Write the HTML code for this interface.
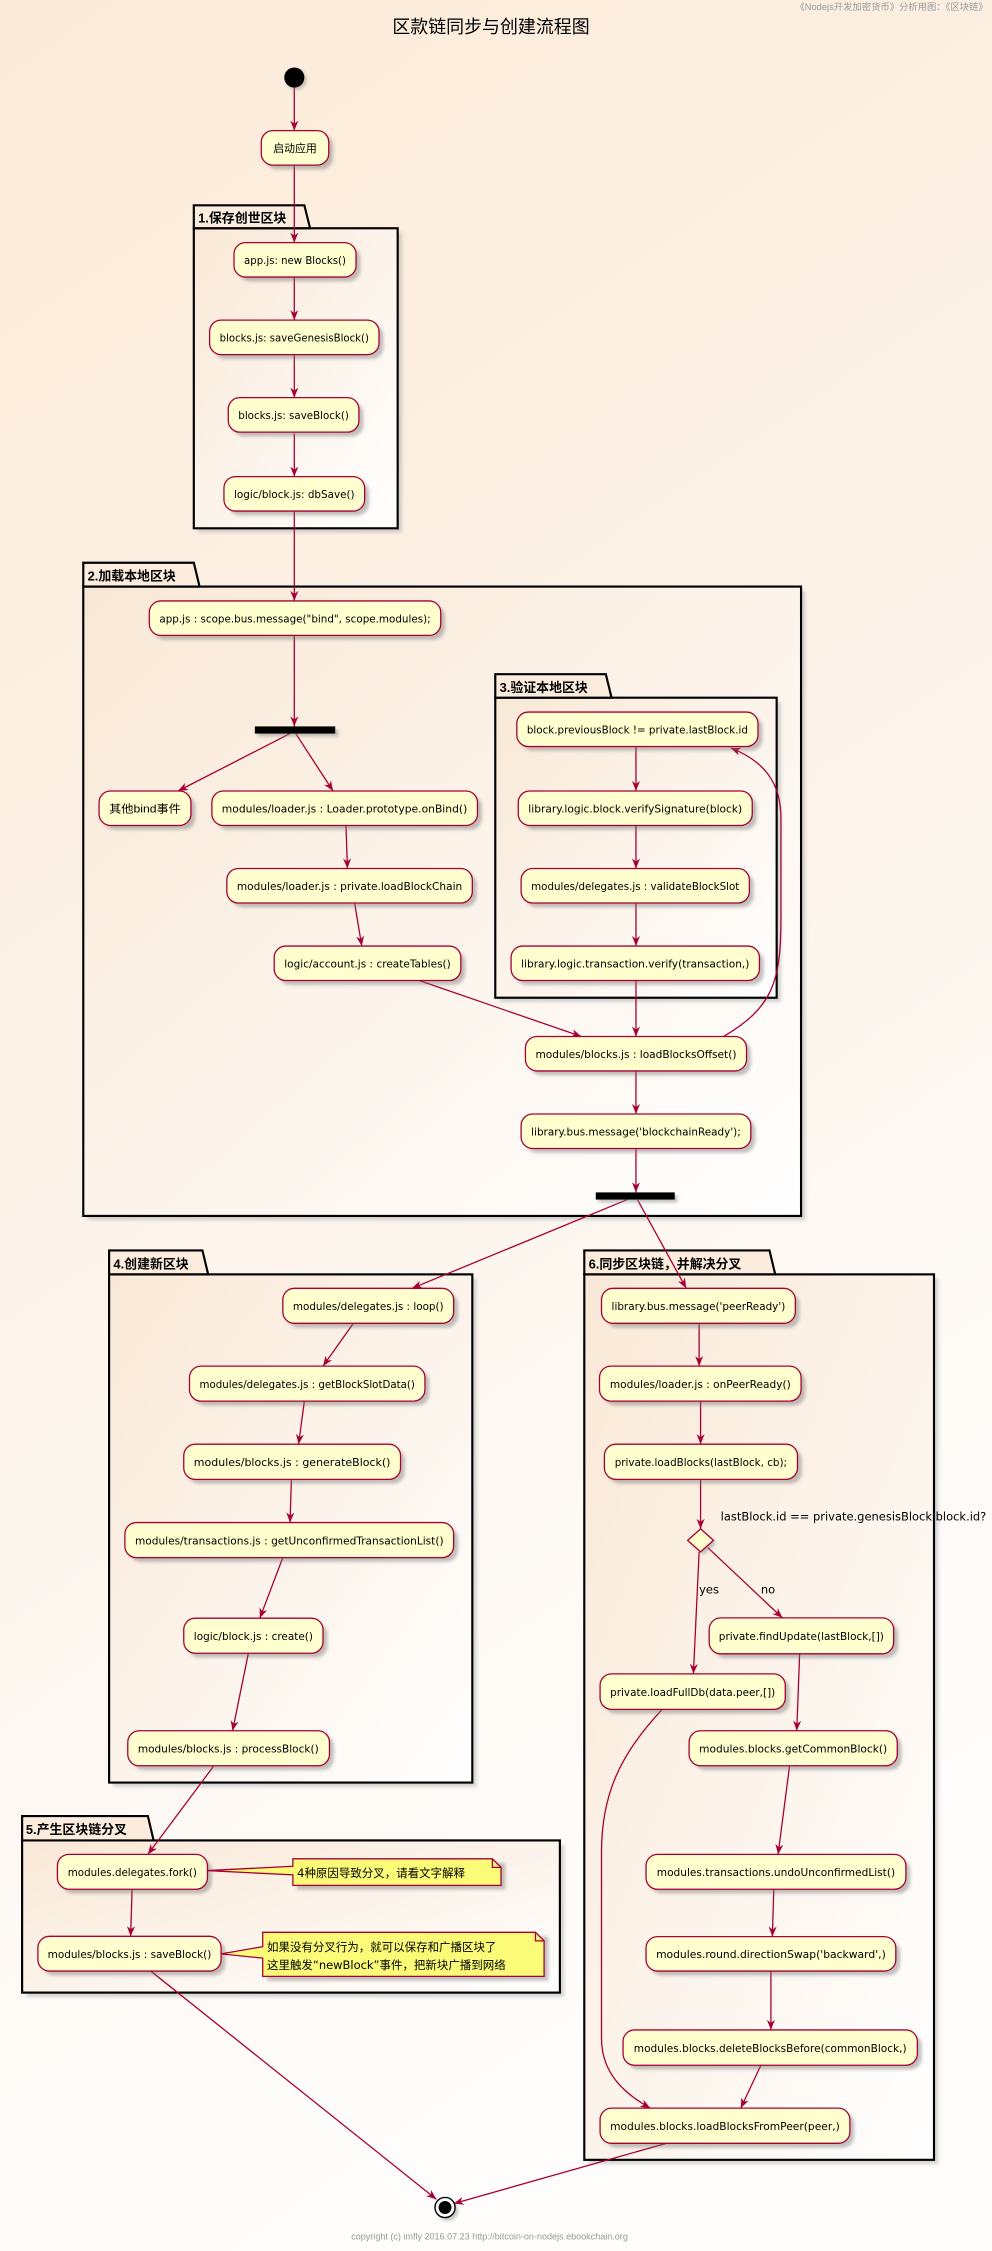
<!DOCTYPE html>
<html><head><meta charset="utf-8"><style>
html,body{margin:0;padding:0;width:992px;height:2251px;overflow:hidden;background:#fdf6ef}
svg{display:block}
text{font-family:"DejaVu Sans","Liberation Sans","Noto Sans CJK SC",sans-serif;fill:#000}
.n{font-size:7.6px}
.t{font-size:9px;font-weight:bold;font-family:"Liberation Sans","Noto Sans CJK SC",sans-serif}
.nt{font-size:8px;font-family:"Liberation Sans","Noto Sans CJK SC",sans-serif}
</style></head><body>
<svg width="992" height="2251" viewBox="0 0 691 1568" xmlns="http://www.w3.org/2000/svg">
<defs>
<linearGradient id="bg" x1="0" y1="0" x2="0.3" y2="1"><stop offset="0" stop-color="#fbead7"/><stop offset="1" stop-color="#fefdfc"/></linearGradient>
<linearGradient id="pk" x1="0" y1="0" x2="1" y2="1"><stop offset="0" stop-color="#f9e8d6"/><stop offset="1" stop-color="#ffffff"/></linearGradient>
<filter id="sh" x="-10%" y="-10%" width="130%" height="140%"><feGaussianBlur stdDeviation="1.2"/></filter>
<marker id="a" viewBox="0 0 10 8" refX="10" refY="4" markerWidth="7" markerHeight="6" orient="auto" markerUnits="userSpaceOnUse"><path d="M0,0 L10,4 L0,8 L3,4 z" fill="#a80036"/></marker>
</defs>
<rect width="691" height="1568" fill="url(#bg)"/>
<text x="688" y="7" text-anchor="end" style="font-size:6.5px;fill:#999;font-family:'Liberation Sans','Noto Sans CJK SC',sans-serif">《Nodejs开发加密货币》分析用图：《区块链》</text>
<text x="342" y="23" text-anchor="middle" style="font-size:12.5px;font-family:'Liberation Sans','Noto Sans CJK SC',sans-serif">区款链同步与创建流程图</text>
<text x="341" y="1560" text-anchor="middle" style="font-size:6.3px;fill:#999;font-family:'Liberation Sans',sans-serif">copyright (c) imfly 2016.07.23 http://bitcoin-on-nodejs.ebookchain.org</text>

<g id="pkgs" stroke="#000" stroke-width="1.5">
<!-- package helper drawn manually -->
<g>
<rect x="138" y="162" width="142" height="209" fill="#999" opacity="0.4" stroke="none" filter="url(#sh)"/>
<rect x="135" y="159" width="142" height="209" fill="url(#pk)"/>
<path d="M135,159 L135,143 L212,143 L216,159 Z" fill="#fbecdd"/>
</g>
<g>
<rect x="61" y="411.6" width="500" height="438.4" fill="#999" opacity="0.4" stroke="none" filter="url(#sh)"/>
<rect x="58" y="408.6" width="500" height="438.4" fill="url(#pk)"/>
<path d="M58,408.6 L58,392 L135,392 L139,408.6 Z" fill="#fbecdd"/>
</g>
<g>
<rect x="348" y="489" width="196" height="209" fill="#999" opacity="0.4" stroke="none" filter="url(#sh)"/>
<rect x="345" y="486" width="196" height="209" fill="url(#pk)"/>
<path d="M345,486 L345,469.6 L422,469.6 L426,486 Z" fill="#fbecdd"/>
</g>
<g>
<rect x="79" y="890.7" width="253" height="354" fill="#999" opacity="0.4" stroke="none" filter="url(#sh)"/>
<rect x="76" y="887.7" width="253" height="354" fill="url(#pk)"/>
<path d="M76,887.7 L76,871 L141,871 L145,887.7 Z" fill="#fbecdd"/>
</g>
<g>
<rect x="410" y="890.7" width="243.6" height="616.8" fill="#999" opacity="0.4" stroke="none" filter="url(#sh)"/>
<rect x="407" y="887.7" width="243.6" height="616.8" fill="url(#pk)"/>
<path d="M407,887.7 L407,871 L536,871 L540,887.7 Z" fill="#fbecdd"/>
</g>
<g>
<rect x="18.4" y="1285" width="374.6" height="106" fill="#999" opacity="0.4" stroke="none" filter="url(#sh)"/>
<rect x="15.4" y="1282" width="374.6" height="106" fill="url(#pk)"/>
<path d="M15.4,1282 L15.4,1265 L103,1265 L107,1282 Z" fill="#fbecdd"/>
</g>
</g>
<g stroke="none">
<text class="t" x="138" y="155">1.保存创世区块</text>
<text class="t" x="61" y="404.5">2.加载本地区块</text>
<text class="t" x="348" y="482">3.验证本地区块</text>
<text class="t" x="79" y="883.5">4.创建新区块</text>
<text class="t" x="410" y="883.5">6.同步区块链，并解决分叉</text>
<text class="t" x="18" y="1277.5">5.产生区块链分叉</text>
</g>

<!-- edges -->
<g stroke="#a80036" stroke-width="0.9" fill="none" marker-end="url(#a)">
<line x1="205" y1="61" x2="205" y2="91"/>
<line x1="205" y1="115" x2="205" y2="169"/>
<line x1="205" y1="193" x2="205" y2="223"/>
<line x1="205" y1="247" x2="205" y2="277"/>
<line x1="205" y1="302" x2="205" y2="332"/>
<line x1="205" y1="356" x2="205" y2="418.6"/>
<line x1="205" y1="442" x2="205" y2="506"/>
<line x1="202" y1="511" x2="124" y2="551"/>
<line x1="206" y1="511" x2="232" y2="551"/>
<line x1="241" y1="575" x2="242" y2="605"/>
<line x1="247" y1="629" x2="252" y2="659"/>
<line x1="292" y1="683" x2="405" y2="722"/>
<line x1="443" y1="520" x2="443" y2="551"/>
<line x1="443" y1="575" x2="443" y2="605"/>
<line x1="443" y1="629" x2="443" y2="659"/>
<line x1="443" y1="683" x2="443" y2="722"/>
<line x1="443" y1="746" x2="443" y2="776"/>
<line x1="443" y1="800" x2="443" y2="830.6"/>
<path d="M504,722 C538,702 544,684 544,640 L544,570 C544,545 532,530 509,521"/>
<line x1="437" y1="835.6" x2="287" y2="897.4"/>
<line x1="444" y1="835.6" x2="478" y2="897.4"/>
<line x1="246" y1="922" x2="225" y2="951.6"/>
<line x1="212" y1="976" x2="208" y2="1006"/>
<line x1="203" y1="1030.5" x2="202" y2="1060.6"/>
<line x1="197" y1="1085" x2="181" y2="1127.2"/>
<line x1="173" y1="1151.6" x2="162" y2="1205.6"/>
<line x1="149" y1="1230" x2="103" y2="1291.7"/>
<line x1="92" y1="1316" x2="91" y2="1348.8"/>
<line x1="105" y1="1373" x2="304" y2="1532"/>
<line x1="487" y1="922" x2="487" y2="951.6"/>
<line x1="488" y1="976" x2="488" y2="1006"/>
<line x1="488" y1="1030.5" x2="488" y2="1065"/>
<line x1="487" y1="1081" x2="483" y2="1166"/>
<line x1="493" y1="1078" x2="545" y2="1127"/>
<line x1="557" y1="1152" x2="555" y2="1205.6"/>
<line x1="550" y1="1230" x2="542" y2="1291.7"/>
<line x1="539" y1="1316" x2="538" y2="1349"/>
<line x1="537" y1="1373" x2="537" y2="1414"/>
<line x1="530" y1="1438.6" x2="516" y2="1468.5"/>
<path d="M461,1191 C432,1222 419,1250 419,1290 L419,1420 C419,1445 436,1459 453,1468.5"/>
<line x1="464" y1="1493" x2="316" y2="1535"/>
</g>

<!-- start / bars / diamond / end -->
<circle cx="206.5" cy="55.5" r="7" fill="#888" opacity="0.5" filter="url(#sh)"/>
<circle cx="205" cy="54" r="7" fill="#000"/>
<rect x="179.5" y="508" width="56" height="5" fill="#888" opacity="0.5" filter="url(#sh)"/>
<rect x="177.5" y="506" width="56" height="5" fill="#000"/>
<rect x="417" y="832.6" width="55" height="5" fill="#888" opacity="0.5" filter="url(#sh)"/>
<rect x="415" y="830.6" width="55" height="5" fill="#000"/>
<polygon points="490,1067 499,1075 490,1083 481,1075" fill="#888" opacity="0.5" filter="url(#sh)"/>
<polygon points="488,1065 497,1073 488,1081 479,1073" fill="#fefece" stroke="#a80036" stroke-width="0.9"/>
<text x="502" y="1059" style="font-size:8px">lastBlock.id == private.genesisBlock.block.id?</text>
<text x="487" y="1110" style="font-size:8px">yes</text>
<text x="530" y="1110" style="font-size:8px">no</text>
<circle cx="312" cy="1540" r="7" fill="#888" opacity="0.5" filter="url(#sh)"/>
<circle cx="310" cy="1537.7" r="7" fill="#fff" stroke="#000" stroke-width="1"/>
<circle cx="310" cy="1537.7" r="4.5" fill="#000"/>

<!-- nodes -->
<g id="nodes">
<!-- each node: shadow, box, text -->
</g>
<g stroke="#a80036" stroke-width="0.9" fill="#fefece">
<g fill="#777" opacity="0.45" stroke="none" filter="url(#sh)">
<rect x="185" y="94" width="47" height="24" rx="8"/>
<rect x="166" y="172" width="85" height="24" rx="8"/>
<rect x="149" y="226" width="118" height="24" rx="8"/>
<rect x="162" y="280" width="91" height="24" rx="8"/>
<rect x="159" y="335" width="98" height="24" rx="8"/>
<rect x="107" y="421.6" width="203" height="24" rx="8"/>
<rect x="72" y="554" width="64" height="24" rx="8"/>
<rect x="150.6" y="554" width="185" height="24" rx="8"/>
<rect x="161" y="608" width="171" height="24" rx="8"/>
<rect x="194" y="662" width="130" height="24" rx="8"/>
<rect x="363" y="499" width="168" height="24" rx="8"/>
<rect x="364" y="554" width="163" height="24" rx="8"/>
<rect x="366" y="608" width="159" height="24" rx="8"/>
<rect x="359" y="662" width="173" height="24" rx="8"/>
<rect x="369" y="725" width="154" height="24" rx="8"/>
<rect x="366" y="779" width="160" height="24" rx="8"/>
<rect x="200" y="900.4" width="119" height="24.4" rx="8"/>
<rect x="135" y="954.6" width="164" height="24.4" rx="8"/>
<rect x="131" y="1009" width="151" height="24.5" rx="8"/>
<rect x="90" y="1063.6" width="229" height="24.4" rx="8"/>
<rect x="131" y="1130.2" width="97" height="24.4" rx="8"/>
<rect x="92" y="1208.6" width="140.5" height="24.4" rx="8"/>
<rect x="422" y="900.4" width="135" height="24.4" rx="8"/>
<rect x="420.6" y="954.6" width="140.4" height="24.4" rx="8"/>
<rect x="424" y="1009" width="134.5" height="24.5" rx="8"/>
<rect x="497" y="1130" width="128.5" height="25" rx="8"/>
<rect x="421" y="1169" width="129" height="24.7" rx="8"/>
<rect x="483" y="1208.6" width="145" height="24.4" rx="8"/>
<rect x="43" y="1294.7" width="104.5" height="24.3" rx="8"/>
<rect x="29.4" y="1351.8" width="127.6" height="24.2" rx="8"/>
<rect x="453" y="1294.7" width="181" height="24.3" rx="8"/>
<rect x="453" y="1352" width="174" height="24" rx="8"/>
<rect x="437" y="1417" width="205" height="24.6" rx="8"/>
<rect x="421" y="1471.5" width="174" height="24.5" rx="8"/>
<rect x="207" y="1297.8" width="145" height="18.5"/>
<rect x="186" y="1349" width="196" height="30.7"/>
</g>
<rect x="182" y="91" width="47" height="24" rx="8"/>
<rect x="163" y="169" width="85" height="24" rx="8"/>
<rect x="146" y="223" width="118" height="24" rx="8"/>
<rect x="159" y="277" width="91" height="24" rx="8"/>
<rect x="156" y="332" width="98" height="24" rx="8"/>
<rect x="104" y="418.6" width="203" height="24" rx="8"/>
<rect x="69" y="551" width="64" height="24" rx="8"/>
<rect x="147.6" y="551" width="185" height="24" rx="8"/>
<rect x="158" y="605" width="171" height="24" rx="8"/>
<rect x="191" y="659" width="130" height="24" rx="8"/>
<rect x="360" y="496" width="168" height="24" rx="8"/>
<rect x="361" y="551" width="163" height="24" rx="8"/>
<rect x="363" y="605" width="159" height="24" rx="8"/>
<rect x="356" y="659" width="173" height="24" rx="8"/>
<rect x="366" y="722" width="154" height="24" rx="8"/>
<rect x="363" y="776" width="160" height="24" rx="8"/>
<rect x="197" y="897.4" width="119" height="24.4" rx="8"/>
<rect x="132" y="951.6" width="164" height="24.4" rx="8"/>
<rect x="128" y="1006" width="151" height="24.5" rx="8"/>
<rect x="87" y="1060.6" width="229" height="24.4" rx="8"/>
<rect x="128" y="1127.2" width="97" height="24.4" rx="8"/>
<rect x="89" y="1205.6" width="140.5" height="24.4" rx="8"/>
<rect x="419" y="897.4" width="135" height="24.4" rx="8"/>
<rect x="417.6" y="951.6" width="140.4" height="24.4" rx="8"/>
<rect x="421" y="1006" width="134.5" height="24.5" rx="8"/>
<rect x="494" y="1127" width="128.5" height="25" rx="8"/>
<rect x="418" y="1166" width="129" height="24.7" rx="8"/>
<rect x="480" y="1205.6" width="145" height="24.4" rx="8"/>
<rect x="40" y="1291.7" width="104.5" height="24.3" rx="8"/>
<rect x="26.4" y="1348.8" width="127.6" height="24.2" rx="8"/>
<rect x="450" y="1291.7" width="181" height="24.3" rx="8"/>
<rect x="450" y="1349" width="174" height="24" rx="8"/>
<rect x="434" y="1414" width="205" height="24.6" rx="8"/>
<rect x="418" y="1468.5" width="174" height="24.5" rx="8"/>
<!-- notes -->
<path d="M144.5,1303 L204,1300 L204,1294.8 L343,1294.8 L349,1300.8 L349,1313.3 L204,1313.3 L204,1306 Z" fill="#fbfb77"/>
<path d="M343,1294.8 L343,1300.8 L349,1300.8" fill="none"/>
<path d="M154,1361 L183,1356 L183,1346 L373,1346 L379,1352 L379,1376.7 L183,1376.7 L183,1364 Z" fill="#fbfb77"/>
<path d="M373,1346 L373,1352 L379,1352" fill="none"/>
</g>
<g class="n" text-anchor="middle" stroke="none" lengthAdjust="spacingAndGlyphs">
<text x="205.5" y="106" style="font-family:'Liberation Sans','Noto Sans CJK SC',sans-serif">启动应用</text>
<text x="205.5" y="184" textLength="71" lengthAdjust="spacingAndGlyphs">app.js: new Blocks()</text>
<text x="205" y="238" textLength="104" lengthAdjust="spacingAndGlyphs">blocks.js: saveGenesisBlock()</text>
<text x="204.5" y="292" textLength="77" lengthAdjust="spacingAndGlyphs">blocks.js: saveBlock()</text>
<text x="205" y="347" textLength="84" lengthAdjust="spacingAndGlyphs">logic/block.js: dbSave()</text>
<text x="205.5" y="433.6" textLength="189" lengthAdjust="spacingAndGlyphs">app.js : scope.bus.message("bind", scope.modules);</text>
<text x="101" y="566" textLength="50" lengthAdjust="spacingAndGlyphs" style="font-family:'Liberation Sans','Noto Sans CJK SC',sans-serif">其他bind事件</text>
<text x="240" y="566" textLength="171" lengthAdjust="spacingAndGlyphs">modules/loader.js : Loader.prototype.onBind()</text>
<text x="243.5" y="620" textLength="157" lengthAdjust="spacingAndGlyphs">modules/loader.js : private.loadBlockChain</text>
<text x="256" y="674" textLength="116" lengthAdjust="spacingAndGlyphs">logic/account.js : createTables()</text>
<text x="444" y="511" textLength="154" lengthAdjust="spacingAndGlyphs">block.previousBlock != private.lastBlock.id</text>
<text x="442.5" y="566" textLength="149" lengthAdjust="spacingAndGlyphs">library.logic.block.verifySignature(block)</text>
<text x="442.5" y="620" textLength="145" lengthAdjust="spacingAndGlyphs">modules/delegates.js : validateBlockSlot</text>
<text x="442.5" y="674" textLength="159" lengthAdjust="spacingAndGlyphs">library.logic.transaction.verify(transaction,)</text>
<text x="443" y="737" textLength="140" lengthAdjust="spacingAndGlyphs">modules/blocks.js : loadBlocksOffset()</text>
<text x="443" y="791" textLength="146" lengthAdjust="spacingAndGlyphs">library.bus.message('blockchainReady');</text>
<text x="256.5" y="912.5" textLength="105" lengthAdjust="spacingAndGlyphs">modules/delegates.js : loop()</text>
<text x="214" y="966.7" textLength="150" lengthAdjust="spacingAndGlyphs">modules/delegates.js : getBlockSlotData()</text>
<text x="203.5" y="1021.2" textLength="137" lengthAdjust="spacingAndGlyphs">modules/blocks.js  :  generateBlock()</text>
<text x="201.5" y="1075.7" textLength="215" lengthAdjust="spacingAndGlyphs">modules/transactions.js : getUnconfirmedTransactionList()</text>
<text x="176.5" y="1142.3" textLength="83" lengthAdjust="spacingAndGlyphs">logic/block.js : create()</text>
<text x="159" y="1220.7" textLength="126" lengthAdjust="spacingAndGlyphs">modules/blocks.js : processBlock()</text>
<text x="486.5" y="912.5" textLength="121" lengthAdjust="spacingAndGlyphs">library.bus.message('peerReady')</text>
<text x="487.8" y="966.7" textLength="126" lengthAdjust="spacingAndGlyphs">modules/loader.js : onPeerReady()</text>
<text x="488.2" y="1021.2" textLength="120" lengthAdjust="spacingAndGlyphs">private.loadBlocks(lastBlock, cb);</text>
<text x="558.2" y="1142.5" textLength="115" lengthAdjust="spacingAndGlyphs">private.findUpdate(lastBlock,[])</text>
<text x="482.5" y="1181.3" textLength="115" lengthAdjust="spacingAndGlyphs">private.loadFullDb(data.peer,[])</text>
<text x="552.5" y="1220.7" textLength="131" lengthAdjust="spacingAndGlyphs">modules.blocks.getCommonBlock()</text>
<text x="92.2" y="1306.8" textLength="90" lengthAdjust="spacingAndGlyphs">modules.delegates.fork()</text>
<text x="90.2" y="1363.8" textLength="114" lengthAdjust="spacingAndGlyphs">modules/blocks.js : saveBlock()</text>
<text x="540.5" y="1306.8" textLength="166" lengthAdjust="spacingAndGlyphs">modules.transactions.undoUnconfirmedList()</text>
<text x="537" y="1364" textLength="160" lengthAdjust="spacingAndGlyphs">modules.round.directionSwap('backward',)</text>
<text x="536.5" y="1429.3" textLength="190" lengthAdjust="spacingAndGlyphs">modules.blocks.deleteBlocksBefore(commonBlock,)</text>
<text x="505" y="1483.7" textLength="160" lengthAdjust="spacingAndGlyphs">modules.blocks.loadBlocksFromPeer(peer,)</text>
</g>
<g class="nt" stroke="none">
<text x="207" y="1307.5">4种原因导致分叉，请看文字解释</text>
<text x="186" y="1359">如果没有分叉行为，就可以保存和广播区块了</text>
<text x="186" y="1371.5">这里触发“newBlock”事件，把新块广播到网络</text>
</g>
</svg>
</body></html>
